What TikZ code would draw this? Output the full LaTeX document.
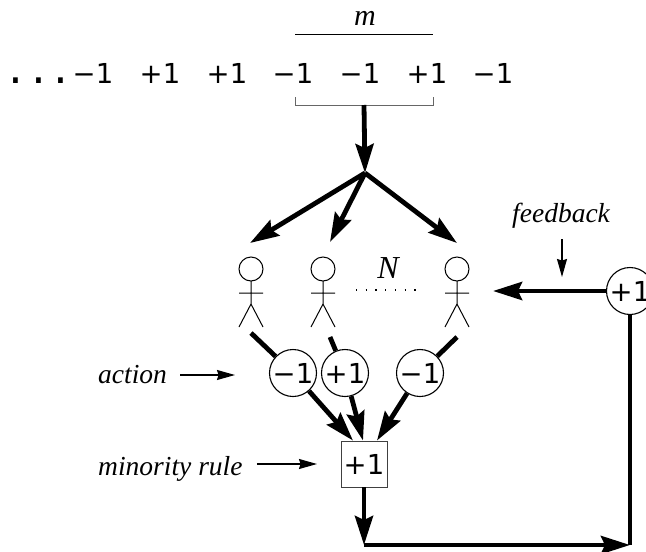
\documentclass[tikz,border=0pt]{standalone}
\usepackage{fontspec}
\usepackage{xcolor}
\setmainfont{Liberation Serif}
\newfontfamily\numfont{DejaVu Sans}
\newfontfamily\dotfont{DejaVu Sans Mono}
\usetikzlibrary{arrows.meta}

\begin{document}
\begin{tikzpicture}[x=1pt,y=-1pt,
   num/.style={font=\numfont\fontsize{27.5}{30}\selectfont},
   lbl/.style={font=\itshape\fontsize{27.5}{30}\selectfont,anchor=base west,inner sep=0pt},
   act/.style={num,circle,draw,line width=1.1pt,minimum size=47pt,inner sep=0pt},
   rulebox/.style={num,rectangle,draw=black!75,line width=0.9pt,minimum size=46pt,inner sep=0pt},
   bigline/.style={line width=4.8pt},
   bigarrow/.style={line width=4.8pt,-{Stealth[length=29pt,width=18pt,inset=4pt]}},
   thinarrow/.style={line width=1.2pt,-{Stealth[length=18pt,width=10pt,inset=1.5pt]}}]
   \useasboundingbox (0,0) rectangle (646,552);
   \clip (0,0) rectangle (646,552);
   % the history string
   \node[font=\dotfont\fontsize{38}{40}\selectfont,anchor=base west,inner sep=0pt] (dots) at (4,83) {...};
   \foreach \x/\t [count=\i] in {93/−1,160/+1,227/+1,293/−1,360/−1,427/+1,493/−1}
     \node[num,anchor=base,inner sep=0pt] (s\i) at (\x,83) {\t};
   \node[lbl,anchor=base,font=\itshape\fontsize{30}{32}\selectfont] (mlab) at (365,25) {m};
   \draw[line width=1pt] (295,34) -- (433,34);
   \draw[black!60,line width=1pt] (295,97) |- (433,105) -- (433,97);
   \coordinate (br) at (364,105);
   \coordinate (fork) at (365,173);
   \draw[bigarrow] (br) -- (fork);
   % the players
   \foreach \x in {251,323,457}
     \draw[shift={(\x,0)},line width=1pt] (0,269) circle (12pt) (0,281) -- (0,304)
       (-12,293) -- (12,293) (-12,327) -- (0,304) -- (12,327);
   \coordinate (top1) at (250,243);
   \coordinate (top2) at (330,242);
   \coordinate (top3) at (457,243);
   \foreach \i in {1,2,3}
     \draw[bigarrow] (fork) -- (top\i);
   \node[font=\itshape\fontsize{32}{34}\selectfont,anchor=base,inner sep=0pt] (N) at (388,278) {N};
   \draw[line width=1.3pt,dash pattern=on 1.3pt off 8.4pt] (356,290) -- (423,290);
   % actions
   \node[act] (a1) at (293,373) {−1};
   \node[act] (a2) at (345,373) {+1};
   \node[act] (a3) at (420,373) {−1};
   \coordinate (foot1) at (251,333);
   \coordinate (foot2) at (330,337);
   \coordinate (foot3) at (457,337);
   \foreach \i in {1,2,3}
     \draw[bigline] (foot\i) -- (a\i);
   \node[rulebox] (rule) at (364,464) {+1};
   \draw[bigarrow] (a1) -- ([xshift=-11pt]rule.north);
   \draw[bigarrow] (a2) -- ([xshift=-1pt]rule.north);
   \draw[bigarrow] (a3) -- ([xshift=13pt]rule.north);
   % feedback loop
   \node[act] (fb) at (630,291) {+1};
   \coordinate (low) at (364,545);
   \coordinate (corner) at (630,545);
   \coordinate (fbin) at (493,291);
   \draw[bigarrow] (rule) -- (low);
   \draw[bigline] (fb) -- (corner);
   \draw[bigarrow] (low) -- (corner);
   \draw[bigarrow] (fb) -- (fbin);
   % labels
   \node[lbl] (fblab) at (512,222) {feedback};
   \coordinate (fbtip) at (562,277);
   \draw[thinarrow] (fblab.south -| fbtip) ++(0,11) -- (fbtip);
   \node[lbl] (actlab) at (98,383) {action};
   \coordinate (actin) at (235,375);
   \draw[thinarrow] (actlab.east |- actin) ++(13,0) -- (actin);
   \node[lbl] (rulelab) at (98,475) {minority rule};
   \coordinate (rulein) at (317,464);
   \draw[thinarrow] (rulelab.east |- rulein) ++(14,0) -- (rulein);
\end{tikzpicture}
\end{document}
